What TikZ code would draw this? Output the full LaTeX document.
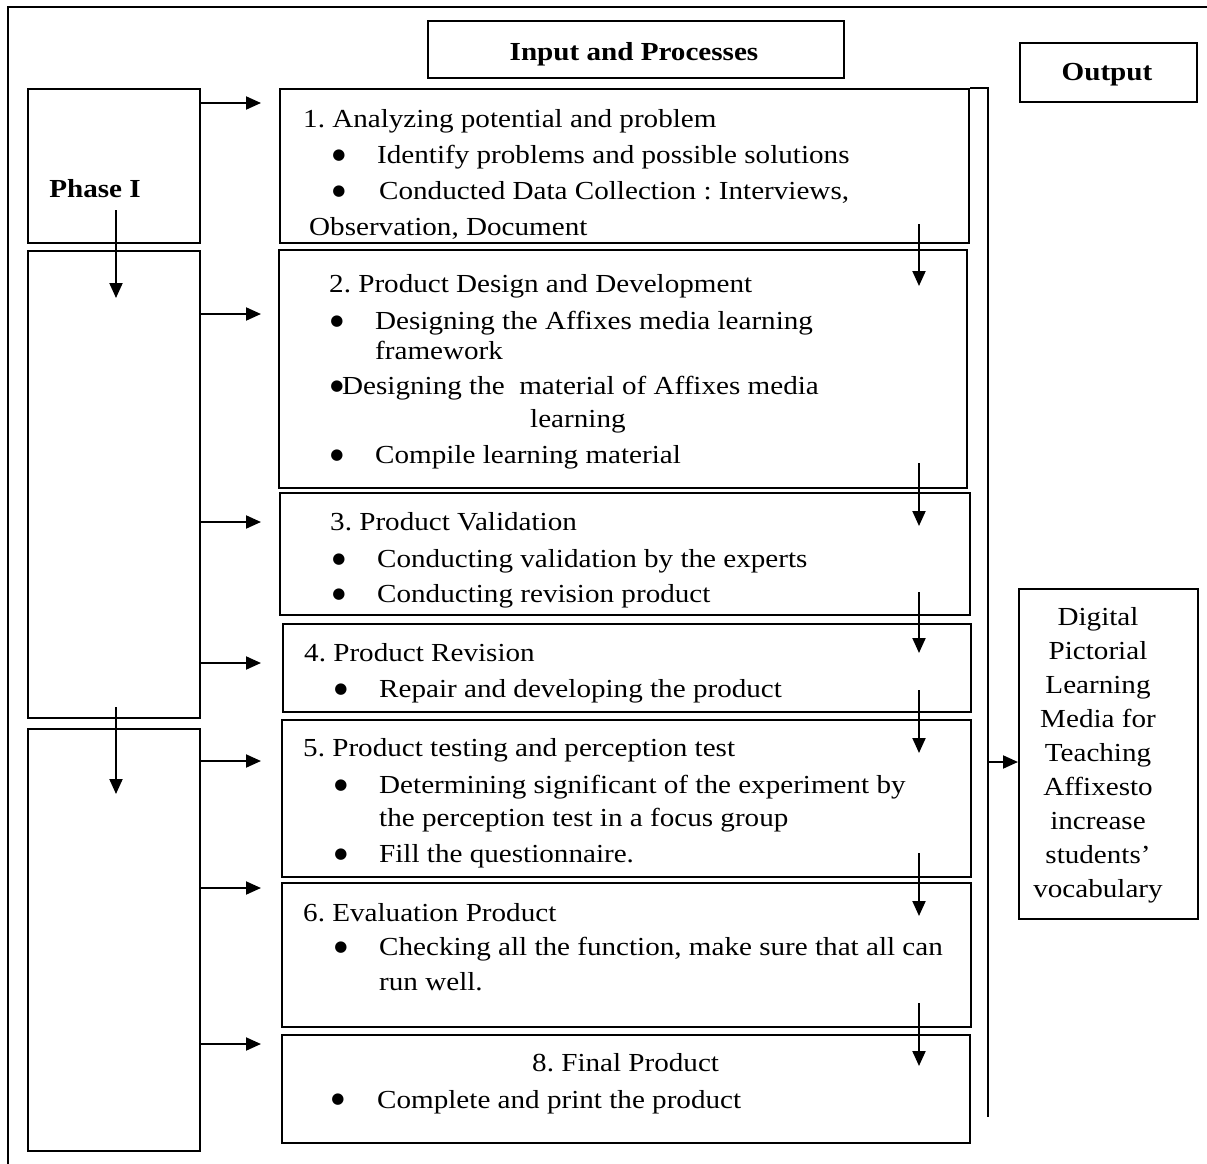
\documentclass[tikz,border=0pt]{standalone}
\usepackage{fontspec}
\setmainfont[FakeStretch=1.12]{Liberation Serif}
\newfontfamily\bulfont{DejaVu Sans}
\usetikzlibrary{arrows.meta}
\begin{document}
\frenchspacing
\begin{tikzpicture}[x=1pt,y=-1pt,
  box/.style={draw,line width=2pt,anchor=north west,inner sep=0pt},
  phasebox/.style={draw,line width=1.6pt,anchor=north west,inner sep=0pt},
  txt/.style={anchor=base west,inner sep=0pt,font=\fontsize{26}{30}\selectfont},
  btxt/.style={anchor=base,inner sep=0pt,font=\fontsize{26}{30}\selectfont\bfseries},
  bul/.style={anchor=center,inner sep=0pt,font=\fontsize{15}{15}\bulfont},
  arr/.style={line width=2pt,-{Triangle[length=15pt,width=13pt]}},
  line/.style={line width=2pt}]
\useasboundingbox (0,0) rectangle (1207,1164);
% outer frame (clipped)
\coordinate (fb) at (8,1164);
\coordinate (ft) at (8,7);
\coordinate (fr) at (1207,7);
\draw[line width=1.6pt] (fb) -- (ft) -- (fr);
% headers
\node[box,minimum width=416pt,minimum height=57pt] (hin) at (427,20) {};
\node[btxt] (hint) at (634,61) {Input and Processes};
\node[box,minimum width=177pt,minimum height=59pt] (hout) at (1019,42) {};
\node[btxt] (houtt) at (1107,81) {Output};
% phase boxes
\node[phasebox,minimum width=172pt,minimum height=154pt] (ph1) at (27,88) {};
\node[phasebox,minimum width=172pt,minimum height=467pt] (ph2) at (27,250) {};
\node[phasebox,minimum width=172pt,minimum height=422pt] (ph3) at (27,728) {};
\node[btxt] (ph1t) at (95,197) {Phase I};
% process boxes
\node[box,minimum width=689pt,minimum height=154pt] (p1) at (279,88) {};
\node[box,minimum width=688pt,minimum height=238pt] (p2) at (278,249) {};
\node[box,minimum width=690pt,minimum height=122pt] (p3) at (279,492) {};
\node[box,minimum width=688pt,minimum height=88pt] (p4) at (282,623) {};
\node[box,minimum width=689pt,minimum height=157pt] (p5) at (281,719) {};
\node[box,minimum width=689pt,minimum height=144pt] (p6) at (281,882) {};
\node[box,minimum width=688pt,minimum height=108pt] (p7) at (281,1034) {};
% box 1 text
\node[txt] (t11) at (303,127) {1. Analyzing potential and problem};
\node[bul] (b11) at (339,156) {●};
\node[txt] (t12) at (377,163) {Identify problems and possible solutions};
\node[bul] (b12) at (339,192) {●};
\node[txt] (t13) at (379,199) {Conducted Data Collection : Interviews,};
\node[txt] (t14) at (309,235) {Observation, Document};
% box 2 text
\node[txt] (t21) at (329,292) {2. Product Design and Development};
\node[bul] (b21) at (337,322) {●};
\node[txt] (t22) at (375,329) {Designing the Affixes media learning};
\node[txt] (t23) at (375,359) {framework};
\node[bul] (b23) at (337,387) {●};
\node[txt] (t24) at (342,394) {Designing the~ material of Affixes media};
\node[txt] (t25) at (530,427) {learning};
\node[bul] (b22) at (337,456) {●};
\node[txt] (t26) at (375,463) {Compile learning material};
% box 3 text
\node[txt] (t31) at (330,530) {3. Product Validation};
\node[bul] (b31) at (339,560) {●};
\node[txt] (t32) at (377,567) {Conducting validation by the experts};
\node[bul] (b32) at (339,595) {●};
\node[txt] (t33) at (377,602) {Conducting revision product};
% box 4 text
\node[txt] (t41) at (304,661) {4. Product Revision};
\node[bul] (b41) at (341,690) {●};
\node[txt] (t42) at (379,697) {Repair and developing the product};
% box 5 text
\node[txt] (t51) at (303,756) {5. Product testing and perception test};
\node[bul] (b51) at (341,786) {●};
\node[txt] (t52) at (379,793) {Determining significant of the experiment by};
\node[txt] (t53) at (379,826) {the perception test in a focus group};
\node[bul] (b52) at (341,855) {●};
\node[txt] (t54) at (379,862) {Fill the questionnaire.};
% box 6 text
\node[txt] (t61) at (303,921) {6. Evaluation Product};
\node[bul] (b61) at (341,948) {●};
\node[txt] (t62) at (379,955) {Checking all the function, make sure that all can};
\node[txt] (t63) at (379,990) {run well.};
% box 7 text
\node[txt] (t71) at (532,1071) {8. Final Product};
\node[bul] (b71) at (338,1100) {●};
\node[txt] (t72) at (377,1108) {Complete and print the product};
% output box
\node[phasebox,minimum width=179pt,minimum height=330pt] (out) at (1018,588) {};
\node[anchor=center,align=center,inner sep=0pt,font=\fontsize{26}{34}\selectfont] (outt) at (1098,755)
  {Digital\\Pictorial\\Learning\\Media for\\Teaching\\Affixesto\\increase\\students’\\vocabulary};
% right bracket line
\coordinate (brt) at (988,88);
\coordinate (brb) at (988,1117);
\draw[line] (p1.north east) -- (brt) -- (brb);
\coordinate (bro) at (988,762);
\draw[arr] (bro) -- (out.west |- bro);
% left arrows
\foreach \y/\n in {103/a,314/b,522/c,663/d,761/e,888/f,1044/g}{
  \coordinate (ls\n) at (199,\y);
  \coordinate (le\n) at (261,\y);
  \draw[arr] (ls\n) -- (le\n);
}
% phase vertical arrows
\coordinate (v1s) at (116,210); \coordinate (v1e) at (116,298);
\draw[arr] (v1s) -- (v1e);
\coordinate (v2s) at (116,707); \coordinate (v2e) at (116,794);
\draw[arr] (v2s) -- (v2e);
% right down arrows
\foreach \a/\b/\n in {224/286/a,463/526/b,592/653/c,690/753/d,853/916/e,1003/1066/f}{
  \coordinate (ds\n) at (919,\a);
  \coordinate (de\n) at (919,\b);
  \draw[arr] (ds\n) -- (de\n);
}
\end{tikzpicture}
\end{document}
